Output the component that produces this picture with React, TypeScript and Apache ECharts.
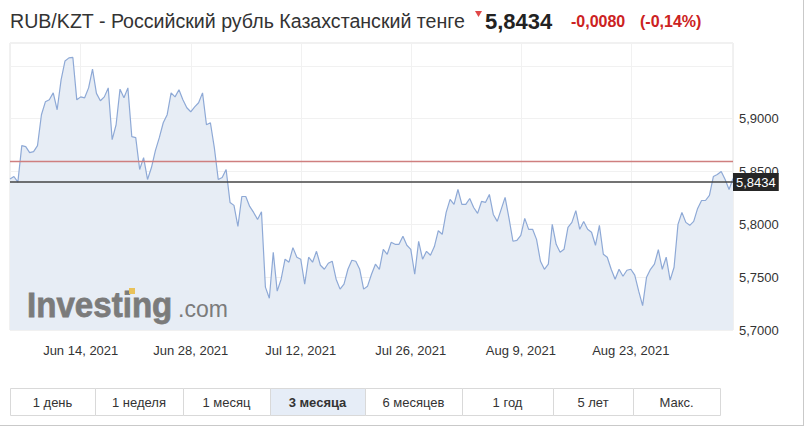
import React, { useEffect, useRef } from 'react';
import * as echarts from 'echarts';

// RUB/KZT, 12-hour samples starting 2021-06-05 00:00 (UTC)
const START_UTC = Date.UTC(2021, 5, 5);
const STEP_HOURS = 12;
const rates: number[] = [
  5.8430, 5.8453, 5.8400, 5.8745, 5.8736, 5.8679, 5.8689, 5.8745, 5.9038, 5.9160,
  5.9179, 5.9245, 5.9085, 5.9368, 5.9547, 5.9576, 5.9580, 5.9179, 5.9207, 5.9198,
  5.9292, 5.9470, 5.9240, 5.9170, 5.9207, 5.9292, 5.8802, 5.8943, 5.9280, 5.9198,
  5.9292, 5.8830, 5.8821, 5.8519, 5.8632, 5.8425, 5.8538, 5.8698, 5.8821, 5.8962,
  5.9038, 5.9245, 5.9207, 5.9274, 5.9179, 5.9104, 5.9066, 5.9113, 5.9151, 5.9245,
  5.8943, 5.8962, 5.8727, 5.8425, 5.8443, 5.8519, 5.8208, 5.8180, 5.7980, 5.8264,
  5.8264, 5.8170, 5.8113, 5.8047, 5.8120, 5.7406, 5.7300, 5.7736, 5.7368, 5.7481,
  5.7670, 5.7642, 5.7780, 5.7689, 5.7670, 5.7434, 5.7689, 5.7642, 5.7745, 5.7613,
  5.7575, 5.7632, 5.7651, 5.7481, 5.7387, 5.7434, 5.7575, 5.7660, 5.7651, 5.7575,
  5.7387, 5.7415, 5.7528, 5.7623, 5.7575, 5.7764, 5.7717, 5.7830, 5.7811, 5.7811,
  5.7887, 5.7802, 5.7764, 5.7528, 5.7840, 5.7670, 5.7745, 5.7708, 5.7790, 5.7940,
  5.7906, 5.8113, 5.8236, 5.8189, 5.8330, 5.8189, 5.8189, 5.8245, 5.8160, 5.8104,
  5.8217, 5.8208, 5.8283, 5.8094, 5.8028, 5.8142, 5.8255, 5.8057, 5.7840, 5.7849,
  5.7896, 5.8057, 5.7953, 5.7953, 5.7858, 5.7651, 5.7575, 5.7623, 5.8000, 5.7811,
  5.7736, 5.7764, 5.7972, 5.8019, 5.8130, 5.7953, 5.8028, 5.7953, 5.7925, 5.7802,
  5.7990, 5.7717, 5.7689, 5.7575, 5.7481, 5.7575, 5.7509, 5.7566, 5.7575, 5.7519,
  5.7368, 5.7230, 5.7500, 5.7575, 5.7623, 5.7760, 5.7575, 5.7689, 5.7472, 5.7594,
  5.8000, 5.8113, 5.8019, 5.7991, 5.8028, 5.8151, 5.8226, 5.8226, 5.8274, 5.8453,
  5.8472, 5.8500, 5.8425, 5.8330, 5.8434,
];

const TITLE = 'RUB/KZT - Российский рубль Казахстанский тенге';
const LAST_PRICE = 5.8434;
const REFERENCE_LINE = 5.8550;
const CHANGE_TEXT = '-0,0080';
const CHANGE_PCT_TEXT = '(-0,14%)';
const Y_MIN = 5.7;
const Y_MAX = 5.9717;
const Y_STEP = 0.05;
const Y_LABEL_LIMIT = 5.92;
const MONTHS = ['Jan', 'Feb', 'Mar', 'Apr', 'May', 'Jun', 'Jul', 'Aug', 'Sep', 'Oct', 'Nov', 'Dec'];
const TICK_EVERY = 28; // every 14 days
const TICK_OFFSET = 18; // first tick: Jun 14, 2021
const RANGES = ['1 день', '1 неделя', '1 месяц', '3 месяца', '6 месяцев', '1 год', '5 лет', 'Макс.'];
const ACTIVE_RANGE = '3 месяца';

const FONT = 'Arial, "Liberation Sans", sans-serif';

const categories = rates.map((_, i) => {
  const d = new Date(START_UTC + i * STEP_HOURS * 3600 * 1000);
  return `${MONTHS[d.getUTCMonth()]} ${d.getUTCDate()}, ${d.getUTCFullYear()}`;
});

const fmt = (v: number) => v.toFixed(4).replace('.', ',');

export default function App() {
  const ref = useRef<HTMLDivElement>(null);

  useEffect(() => {
    if (!ref.current) return;
    const chart = echarts.init(ref.current, undefined, { renderer: 'svg' });

    const btnEdges = [10, 95, 183, 270, 365, 462, 553, 633, 720];
    const buttons: any[] = [];
    RANGES.forEach((label, i) => {
      const x0 = btnEdges[i];
      const x1 = btnEdges[i + 1];
      const active = label === ACTIVE_RANGE;
      buttons.push({
        type: 'rect',
        shape: { x: x0 + 0.5, y: 388.5, width: x1 - x0, height: 27 },
        style: { fill: active ? '#e6edf7' : '#ffffff', stroke: '#d9d9d9', lineWidth: 1 },
        silent: true,
      });
      buttons.push({
        type: 'text',
        x: (x0 + x1) / 2,
        y: 402,
        style: {
          text: label,
          fill: '#333333',
          fontFamily: FONT,
          fontSize: 13,
          fontWeight: active ? 'bold' : 'normal',
          align: 'center',
          verticalAlign: 'middle',
        },
        silent: true,
      });
    });

    chart.setOption({
      animation: false,
      backgroundColor: '#ffffff',
      grid: {
        left: 10,
        right: 77,
        top: 43,
        bottom: 100,
        show: true,
        borderColor: '#e2e2e2',
        borderWidth: 1,
      },
      xAxis: {
        type: 'category',
        data: categories,
        boundaryGap: false,
        axisLine: { show: false },
        axisTick: { show: false },
        axisLabel: {
          interval: (idx: number) => idx % TICK_EVERY === TICK_OFFSET,
          color: '#333333',
          fontSize: 13,
          fontFamily: FONT,
          margin: 14,
        },
        splitLine: {
          show: true,
          interval: (idx: number) => idx % TICK_EVERY === TICK_OFFSET,
          lineStyle: { color: '#f1f1f1', width: 1 },
        },
      },
      yAxis: {
        type: 'value',
        position: 'right',
        min: Y_MIN,
        max: Y_MAX,
        interval: Y_STEP,
        axisLine: { show: false },
        axisTick: { show: false },
        axisLabel: {
          color: '#333333',
          fontSize: 13,
          fontFamily: FONT,
          margin: 6,
          formatter: (v: number) => {
            const onStep = Math.abs(v / Y_STEP - Math.round(v / Y_STEP)) < 1e-6;
            return onStep && v < Y_LABEL_LIMIT ? fmt(v) : '';
          },
        },
        splitLine: { show: true, lineStyle: { color: '#f1f1f1', width: 1 } },
      },
      series: [
        {
          type: 'line',
          data: rates,
          symbol: 'none',
          smooth: false,
          lineStyle: { color: '#8ea9d6', width: 1.2 },
          areaStyle: { color: '#e7edf5', origin: 'start', opacity: 1 },
          z: 2,
        },
        {
          type: 'line',
          data: rates,
          symbol: 'none',
          silent: true,
          lineStyle: { opacity: 0 },
          z: 3,
          markLine: {
            silent: true,
            symbol: ['none', 'none'],
            animation: false,
            lineStyle: { color: '#cf7f7f', width: 1.3, type: 'solid', opacity: 1 },
            label: { show: false },
            emphasis: { disabled: true },
            data: [{ yAxis: REFERENCE_LINE }],
          },
        },
        {
          type: 'line',
          data: rates,
          symbol: 'none',
          silent: true,
          lineStyle: { opacity: 0 },
          z: 4,
          markLine: {
            silent: true,
            symbol: ['none', 'none'],
            animation: false,
            lineStyle: { color: '#444444', width: 1.5, type: 'solid', opacity: 1 },
            emphasis: { disabled: true },
            label: {
              show: true,
              position: 'end',
              distance: 0,
              formatter: () => fmt(LAST_PRICE),
              color: '#ffffff',
              backgroundColor: '#262626',
              fontSize: 13,
              fontFamily: FONT,
              padding: [3, 3, 2, 3],
            },
            data: [{ yAxis: LAST_PRICE }],
          },
        },
      ],
      graphic: [
        // watermark
        {
          type: 'text',
          x: 27,
          y: 305,
          scaleX: 0.92,
          style: {
            text: 'Investing',
            fill: '#7b7b7b',
            stroke: '#7b7b7b',
            lineWidth: 0.8,
            fontFamily: FONT,
            fontSize: 36,
            fontWeight: 'bold',
            verticalAlign: 'middle',
          },
          silent: true,
          z: 10,
        },
        {
          type: 'rect',
          shape: { x: 129, y: 288, width: 6, height: 6 },
          style: { fill: '#e9c25a' },
          silent: true,
          z: 11,
        },
        {
          type: 'text',
          x: 178,
          y: 309,
          style: {
            text: '.com',
            fill: '#7b7b7b',
            fontFamily: FONT,
            fontSize: 23,
            verticalAlign: 'middle',
          },
          silent: true,
          z: 10,
        },
        // header
        {
          type: 'text',
          x: 10,
          y: 21,
          style: {
            text: TITLE,
            fill: '#333333',
            fontFamily: FONT,
            fontSize: 19.6,
            verticalAlign: 'middle',
          },
        },
        {
          type: 'polygon',
          shape: { points: [[475, 11], [482, 11], [478.5, 17]] },
          style: { fill: '#e04848' },
        },
        {
          type: 'text',
          x: 485,
          y: 21,
          style: {
            text: fmt(LAST_PRICE),
            fill: '#222222',
            fontFamily: FONT,
            fontSize: 22,
            fontWeight: 'bold',
            verticalAlign: 'middle',
          },
        },
        {
          type: 'text',
          x: 571,
          y: 21,
          style: {
            text: CHANGE_TEXT,
            fill: '#cc2222',
            fontFamily: FONT,
            fontSize: 16,
            fontWeight: 'bold',
            verticalAlign: 'middle',
          },
        },
        {
          type: 'text',
          x: 640,
          y: 21,
          style: {
            text: CHANGE_PCT_TEXT,
            fill: '#cc2222',
            fontFamily: FONT,
            fontSize: 16,
            fontWeight: 'bold',
            verticalAlign: 'middle',
          },
        },
        ...buttons,
        // container border
        {
          type: 'line',
          shape: { x1: 803.5, y1: 0, x2: 803.5, y2: 426 },
          style: { stroke: '#c9c9c9', lineWidth: 1 },
          silent: true,
        },
        {
          type: 'line',
          shape: { x1: 0, y1: 425.5, x2: 804, y2: 425.5 },
          style: { stroke: '#c9c9c9', lineWidth: 1 },
          silent: true,
        },
      ],
    });

    return () => chart.dispose();
  }, []);

  return (
    <div
      ref={ref}
      style={{ position: 'fixed', left: 0, top: 0, width: 810, height: 430, background: '#fff' }}
    />
  );
}
